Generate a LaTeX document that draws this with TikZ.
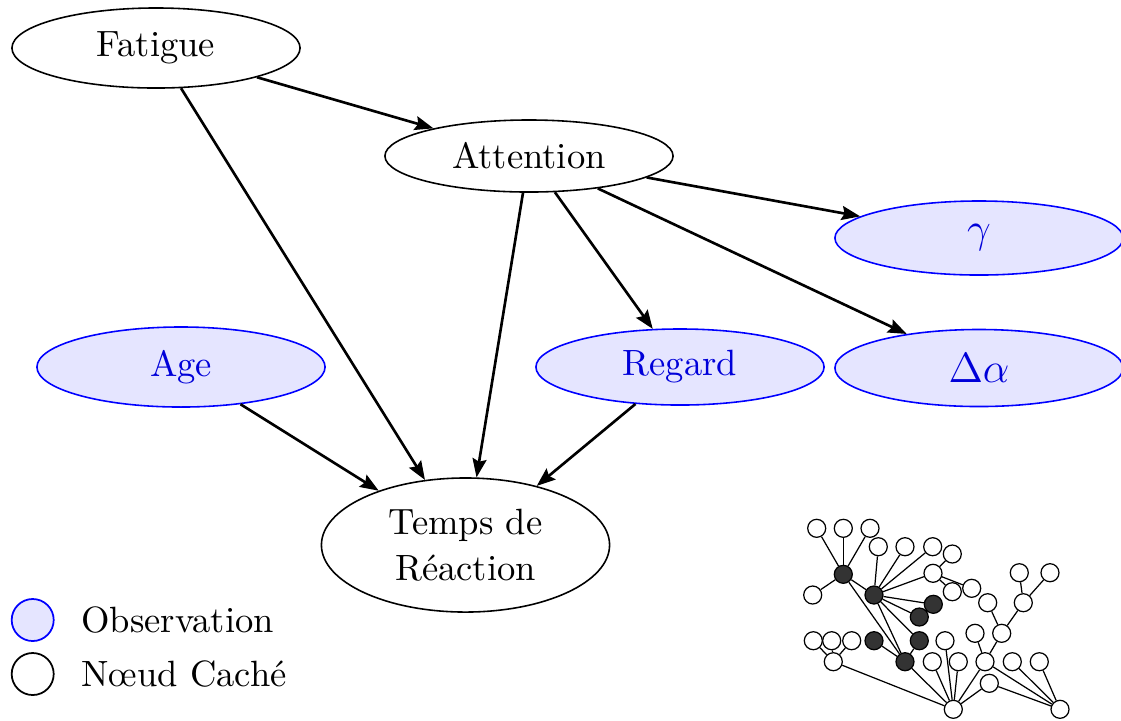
\documentclass[tikz,border=0pt]{standalone}
\usetikzlibrary{shapes.geometric,arrows.meta}
\begin{document}
\begin{tikzpicture}[x=0.01cm,y=-0.01cm,
  every node/.style={font=\fontsize{10.4pt}{13pt}\selectfont},
  hid/.style={ellipse,draw=black,line width=0.45pt,fill=white,minimum width=2.88cm,inner sep=1pt,align=center},
  obs/.style={ellipse,draw=blue,line width=0.45pt,fill=blue!10,text=blue!85!black,minimum width=2.88cm,inner sep=1pt},
  arr/.style={-{Stealth[length=5.3pt,width=4pt,inset=0.8pt]},line width=0.75pt},
  gw/.style={circle,draw=black,line width=0.35pt,fill=white,minimum size=0.18cm,inner sep=0pt},
  gd/.style={gw,fill=black!80},
  ge/.style={line width=0.35pt},
  legobs/.style={circle,draw=blue,line width=0.5pt,fill=blue!10,minimum size=0.42cm,inner sep=0pt},
  leghid/.style={circle,draw=black,line width=0.5pt,fill=white,minimum size=0.42cm,inner sep=0pt}]
\useasboundingbox (0,0) rectangle (1121,720);

% main network
\node[hid,minimum height=0.80cm] (fat) at (156,48) {Fatigue};
\node[hid,minimum height=0.72cm] (att) at (529,156) {Attention};
\node[obs,minimum height=0.74cm] (gam) at (979,238) {\large$\gamma$};
\node[obs,minimum height=0.80cm] (age) at (181,367) {Age};
\node[obs,minimum height=0.76cm] (reg) at (680,367) {Regard};
\node[obs,minimum height=0.77cm] (dal) at (979,368) {\large$\Delta\alpha$};
\node[hid,minimum height=1.34cm] (tdr) at (465.5,545) {Temps de\\R\'eaction};

\draw[arr] (fat) -- (att);
\draw[arr] (fat) -- (tdr);
\draw[arr] (att) -- (tdr);
\draw[arr] (att) -- (reg);
\draw[arr] (att) -- (gam);
\draw[arr] (att) -- (dal);
\draw[arr] (age) -- (tdr);
\draw[arr] (reg) -- (tdr);

% legend
\node[legobs] (lo) at (32.7,620) {};
\node[anchor=west] (lot) at (69,620) {Observation};
\node[leghid] (lh) at (32.7,674) {};
\node[anchor=west] (lht) at (69,674) {N\oe ud Cach\'e};

% small graph
\foreach \n/\x/\y in {A1/816.7/528.3,A2/843.3/528.3,A3/870/528.3,B1/812.7/595,
  C1/878.3/546.7,C2/905/546.7,C3/932.7/546.7,C4/952.3/554,C5/933/573.3,C6/952.3/591.7,C7/971.7/588.3,
  E1/813.3/640.7,E2/831.7/640.7,E3/851.7/640.7,E4/833.3/661.7,
  F1/945/640.7,F2/932.3/661.7,F3/958.3/661.7,
  G1/987.7/602.7,G2/975/633.3,G3/1001.7/633.3,G4/985/661.7,
  H1/1019.3/572.7,H2/1050/572.7,H3/1023.3/602.7,I1/989.3/683.3,
  J1/1012.3/661.7,J2/1039.3/661.7,K1/953.3/709.3,K2/1060/709.3}
  {\node[gw] (g\n) at (\x,\y) {};}
\foreach \n/\x/\y in {D1/843.3/574.3,D2/874/595,D3/933.3/604.3,D4/919.3/617,D5/874/640.7,D6/919.3/640.7,D7/905/661.7}
  {\node[gd] (g\n) at (\x,\y) {};}
\foreach \a/\b in {A1/D1,A2/D1,A3/D1,B1/D1,D1/D2,D1/D7,C1/D2,C2/D2,C3/D2,C5/D2,D2/D3,D2/D4,D2/D6,D2/D7,
  C4/C5,C5/C6,C5/C7,D5/D7,D6/D7,E1/E4,E2/E4,E3/E4,E4/K1,D7/K1,F1/K1,F2/K1,F3/K1,G4/K1,I1/K1,
  G1/G3,H1/H3,H2/H3,H3/G3,G3/G4,G2/G4,G4/K2,I1/K2,J1/K2,J2/K2}
  {\draw[ge] (g\a) -- (g\b);}
\end{tikzpicture}
\end{document}
